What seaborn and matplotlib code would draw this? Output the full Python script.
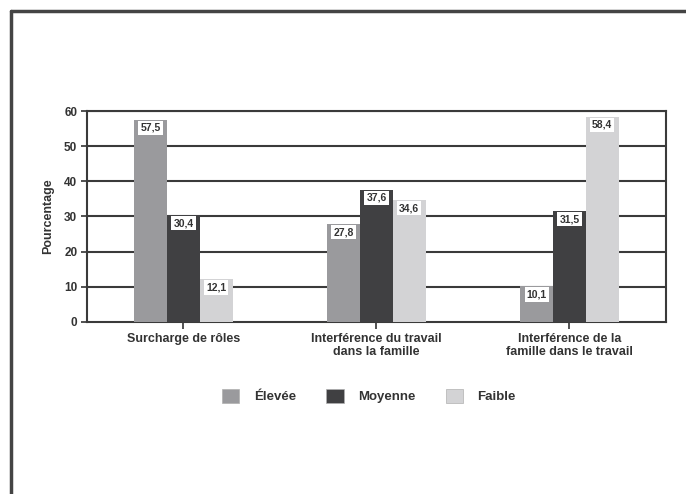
import pandas as pd
import matplotlib
matplotlib.use("Agg")
import matplotlib.pyplot as plt
from matplotlib.patches import Patch
from matplotlib.lines import Line2D
import seaborn as sns

# donnees
categories = ["Surcharge de rôles",
              "Interférence du travail\ndans la famille",
              "Interférence de la\nfamille dans le travail"]
niveaux = ["Élevée", "Moyenne", "Faible"]
elevee = [57.5, 27.8, 10.1]
moyenne = [30.4, 37.6, 31.5]
faible = [12.1, 34.6, 58.4]
yticks = [0, 10, 20, 30, 40, 50, 60]

couleurs = {"Élevée": "#9a9a9d", "Moyenne": "#404042", "Faible": "#d3d3d5"}
texte = "#333333"

df = pd.DataFrame({
    "categorie": categories * 3,
    "niveau": [n for n in niveaux for _ in categories],
    "valeur": elevee + moyenne + faible,
})

sns.set_style("white")
plt.rcParams["font.family"] = ["Liberation Sans", "DejaVu Sans"]
plt.rcParams["font.weight"] = "bold"

fig = plt.figure(figsize=(6.86, 4.94), dpi=100)
ax = fig.add_axes([0.1268, 0.3482, 0.844, 0.4271])

sns.barplot(data=df, x="categorie", y="valeur", hue="niveau", hue_order=niveaux,
            order=categories, palette=couleurs, width=0.51, linewidth=0,
            legend=False, ax=ax, zorder=3)

ax.set_xlim(-0.5, 2.5)
ax.set_ylim(0, 60)
ax.set_yticks(yticks)
ax.set_yticklabels([str(t) for t in yticks], fontsize=8.5, color=texte, fontweight="bold")
ax.set_xticks(range(len(categories)))
ax.set_xticklabels(categories, fontsize=9, color=texte, fontweight="bold", linespacing=1.05)
ax.tick_params(axis="y", direction="out", length=4, width=1.2, color=texte, pad=3, left=True)
ax.tick_params(axis="x", direction="out", length=5, width=1.2, color=texte, pad=3, bottom=True)
ax.set_xlabel("")
ax.set_ylabel("Pourcentage", fontsize=9, color=texte, fontweight="bold", labelpad=7)

for y in yticks[1:]:
    ax.axhline(y, color="#3a3a3a", lw=1.5, zorder=1)
for s in ax.spines.values():
    s.set_color("#3a3a3a")
    s.set_linewidth(1.5)

# etiquettes des valeurs
for cont in ax.containers:
    vals = [b.get_height() for b in cont]
    anns = ax.bar_label(cont, labels=[f"{v:.1f}".replace(".", ",") for v in vals],
                        padding=-2.2, fontsize=7.5, fontweight="bold", color=texte,
                        bbox=dict(facecolor="white", edgecolor="none", pad=1.5), zorder=4)
    for a in anns:
        a.set_va("top")

handles = [Patch(facecolor=couleurs[n], edgecolor="#b0b0b0", linewidth=0.5) for n in niveaux]
fig.legend(handles, niveaux, loc="center", bbox_to_anchor=(0.538, 0.198), ncol=3,
           frameon=False, handlelength=1.3, handleheight=1.3,
           handletextpad=1.1, columnspacing=2.3, labelcolor=texte,
           prop={"weight": "bold", "size": 9.5})

# cadre
fig.add_artist(Line2D([0.016, 0.016], [0.0, 0.978], transform=fig.transFigure,
                      color="#444444", lw=2.5))
fig.add_artist(Line2D([0.016, 1.0], [0.978, 0.978], transform=fig.transFigure,
                      color="#444444", lw=2.5))

fig.savefig("out.png", dpi=100)
